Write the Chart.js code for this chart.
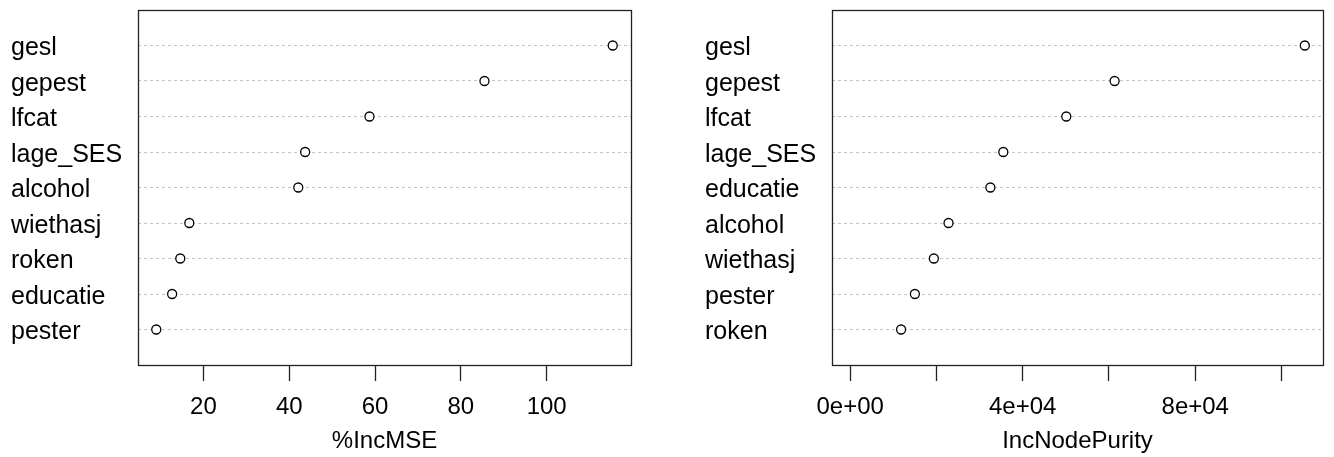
<!DOCTYPE html>
<html>
<head>
<meta charset="utf-8">
<script src="https://cdn.jsdelivr.net/npm/chart.js@4.4.1/dist/chart.umd.min.js"></script>
<style>
  html, body { margin: 0; padding: 0; background: #fff; }
  #wrap { position: relative; width: 1334px; height: 457px; overflow: hidden; }
  canvas { position: absolute; top: 0; }
  #c1 { left: 0; }
  #c2 { left: 667px; }
</style>
</head>
<body>
<div id="wrap">
  <canvas id="c1" width="667" height="457"></canvas>
  <canvas id="c2" width="667" height="457"></canvas>
</div>
<script>
// ---- data ----
const leftTitle = '%IncMSE';
const leftNames = ['gesl', 'gepest', 'lfcat', 'lage_SES', 'alcohol', 'wiethasj', 'roken', 'educatie', 'pester'];
const leftValues = [115.4, 85.5, 58.7, 43.7, 42.1, 16.7, 14.6, 12.7, 9.0];
const leftTickValues = [20, 40, 60, 80, 100];
const leftTickLabels = ['20', '40', '60', '80', '100'];

const rightTitle = 'IncNodePurity';
const rightNames = ['gesl', 'gepest', 'lfcat', 'lage_SES', 'educatie', 'alcohol', 'wiethasj', 'pester', 'roken'];
const rightValues = [105400, 61300, 50100, 35500, 32500, 22800, 19400, 15000, 11800];
const rightTickValues = [0, 20000, 40000, 60000, 80000, 100000];
const rightTickLabels = ['0e+00', '', '4e+04', '', '8e+04', ''];

const FONT = '"Liberation Sans", Arial, Helvetica, sans-serif';

const boxPlugin = {
  id: 'box',
  afterDatasetsDraw(chart) {
    const a = chart.chartArea, ctx = chart.ctx;
    ctx.save();
    ctx.strokeStyle = '#222';
    ctx.lineWidth = 1.3;
    ctx.strokeRect(Math.round(a.left) + 0.5, Math.round(a.top) + 0.5,
                   Math.round(a.right - a.left), Math.round(a.bottom - a.top));
    ctx.restore();
  }
};

function makeChart(id, names, values, xmin, xmax, tickValues, tickLabels, title, pad) {
  const n = names.length;
  const pts = values.map((v, i) => ({ x: v, y: n - i }));
  return new Chart(document.getElementById(id), {
    type: 'scatter',
    data: {
      datasets: [{
        data: pts,
        pointRadius: 4.5,
        pointHoverRadius: 4.5,
        pointBorderWidth: 1.3,
        borderColor: '#000',
        backgroundColor: '#fff',
        pointBackgroundColor: '#fff',
        pointBorderColor: '#000'
      }]
    },
    options: {
      responsive: false,
      animation: false,
      devicePixelRatio: 1,
      layout: { padding: pad },
      plugins: { legend: { display: false }, tooltip: { enabled: false } },
      scales: {
        x: {
          type: 'linear',
          min: xmin,
          max: xmax,
          afterBuildTicks: s => { s.ticks = tickValues.map(v => ({ value: v })); },
          afterFit: s => { s.height = 92; s.paddingLeft = 0; s.paddingRight = 0; },
          border: { display: false },
          grid: {
            display: true,
            drawOnChartArea: false,
            drawTicks: true,
            tickLength: 16,
            tickWidth: 1.3,
            tickColor: '#222'
          },
          ticks: {
            autoSkip: false,
            maxRotation: 0,
            padding: 12,
            color: '#000',
            font: { family: FONT, size: 24 },
            callback: (v, i) => tickLabels[i]
          },
          title: {
            display: true,
            text: title,
            color: '#000',
            font: { family: FONT, size: 24 },
            padding: { top: 0, bottom: 1 }
          }
        },
        y: {
          type: 'linear',
          min: 0,
          max: n + 1,
          afterBuildTicks: s => { s.ticks = names.map((nm, i) => ({ value: n - i })); },
          afterFit: s => { s.width = 127; s.paddingTop = 0; s.paddingBottom = 0; },
          border: { display: false, dash: [3, 3] },
          grid: {
            display: true,
            drawTicks: false,
            color: '#c4c4c4',
            lineWidth: 1
          },
          ticks: {
            autoSkip: false,
            crossAlign: 'far',
            padding: 0,
            labelOffset: 3,
            color: '#000',
            font: { family: FONT, size: 25 },
            callback: (v) => names[n - v]
          }
        }
      }
    },
    plugins: [boxPlugin]
  });
}

// R dotchart pads the data range by 4% on each side
function padRange(lo, hi) { const d = (hi - lo) * 0.04; return [lo - d, hi + d]; }

const lr = padRange(Math.min(...leftValues), Math.max(...leftValues));
const rr = padRange(0, Math.max(...rightValues));

makeChart('c1', leftNames, leftValues, lr[0], lr[1], leftTickValues, leftTickLabels, leftTitle,
  { left: 11, right: 36, top: 10, bottom: 0 });
makeChart('c2', rightNames, rightValues, rr[0], rr[1], rightTickValues, rightTickLabels, rightTitle,
  { left: 38, right: 11, top: 10, bottom: 0 });
</script>
</body>
</html>
